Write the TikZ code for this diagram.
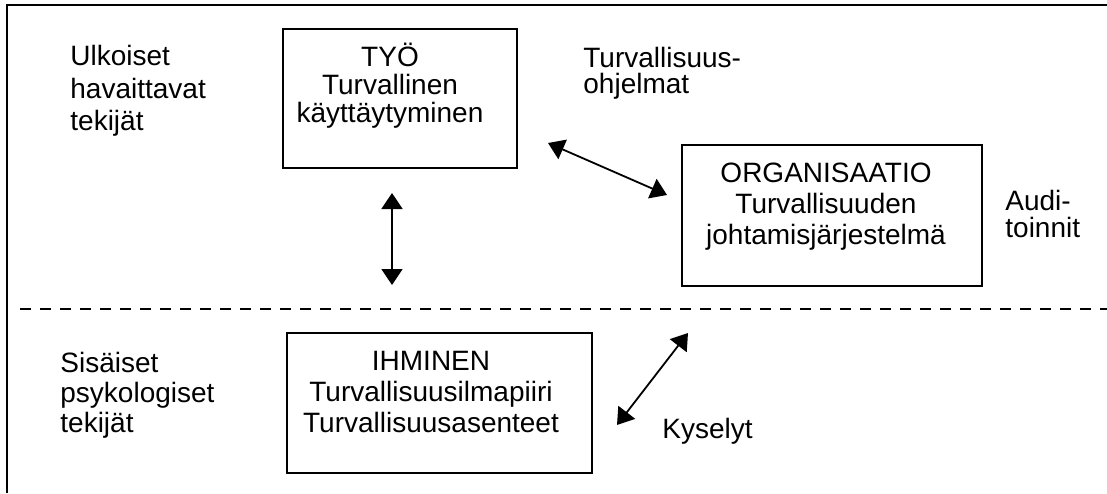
\documentclass[tikz,border=0pt]{standalone}
\usepackage{fontspec}
\setmainfont{Liberation Sans}
\usetikzlibrary{arrows.meta}

\begin{document}
\begin{tikzpicture}[x=0.5pt,y=-0.5pt,
  laatikko/.style={draw, line width=0.9pt, inner sep=0pt},
  teksti/.style={inner sep=0pt, align=center, anchor=north},
  sivuteksti/.style={inner sep=0pt, align=left, anchor=north west},
  nuoli/.style={line width=0.9pt, {Triangle[length=8pt,width=10.5pt]}-{Triangle[length=8pt,width=10.5pt]}}]
\useasboundingbox (0,0) rectangle (1107,493);
% kehys ja raja
\draw[line width=1.1pt] (7,493) -- (7,5) -- (1107,5);
\draw[line width=1.1pt, dash pattern=on 5.5pt off 4.5pt] (20,309) -- (1107,309);
% laatikot
\node[laatikko, minimum width=117pt, minimum height=69.5pt] (tyo) at (400,98.5) {};
\node[laatikko, minimum width=150pt, minimum height=70.5pt] (org) at (832,215.5) {};
\node[laatikko, minimum width=152.5pt, minimum height=70pt] (ihminen) at (439.5,403) {};
\node[teksti, font=\fontsize{14}{14}\selectfont] (tyoteksti) at (390,43) {TYÖ\\Turvallinen\\käyttäytyminen};
\node[teksti, font=\fontsize{14}{15.5}\selectfont] (orgteksti) at (826,163) {ORGANISAATIO\\Turvallisuuden\\johtamisjärjestelmä};
\node[teksti, font=\fontsize{14}{15.5}\selectfont] (ihmteksti) at (431,351) {IHMINEN\\Turvallisuusilmapiiri\\Turvallisuusasenteet};
% sivutekstit
\node[sivuteksti, font=\fontsize{14}{16.3}\selectfont] (ulkoiset) at (70,45) {Ulkoiset\\havaittavat\\tekijät};
\node[sivuteksti, font=\fontsize{14}{15}\selectfont] (sisaiset) at (60,352) {Sisäiset\\psykologiset\\tekijät};
\node[sivuteksti, font=\fontsize{14}{13}\selectfont] (ohjelmat) at (583,47) {Turvallisuus-\\ohjelmat};
\node[sivuteksti, font=\fontsize{14}{13.5}\selectfont] (auditoinnit) at (1005,190) {Audi-\\toinnit};
\node[sivuteksti, font=\fontsize{14}{15}\selectfont] (kyselyt) at (662,418) {Kyselyt};
% nuolet
\coordinate (a1) at (392,193); \coordinate (a2) at (392,285);
\coordinate (b1) at (548,143); \coordinate (b2) at (667,195);
\coordinate (c1) at (688,333); \coordinate (c2) at (617,425);
\draw[nuoli] (a1) -- (a2);
\draw[nuoli] (b1) -- (b2);
\draw[nuoli] (c1) -- (c2);
\end{tikzpicture}
\end{document}
